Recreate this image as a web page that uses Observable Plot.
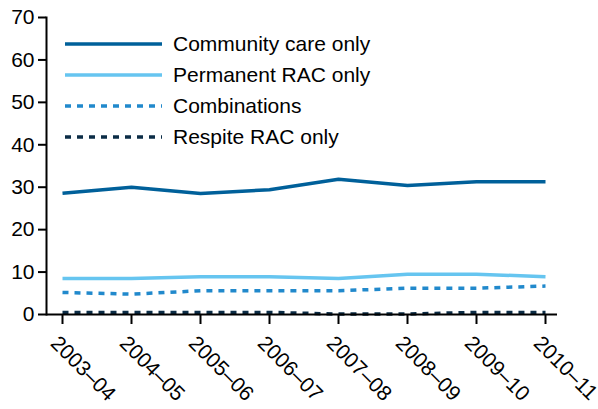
<!DOCTYPE html>
<html><head><meta charset="utf-8">
<script src="https://cdn.jsdelivr.net/npm/d3@7"></script>
<script src="https://cdn.jsdelivr.net/npm/@observablehq/plot@0.6"></script>
<style>
html,body{margin:0;padding:0;background:#fff;}
#wrap{position:relative;width:598px;height:409px;font-family:Arial,"Liberation Sans",sans-serif;overflow:hidden;}
#legend{position:absolute;left:65px;top:28px;}
.row{display:flex;align-items:center;height:31px;}
.row span{font-size:21px;color:#000;margin-left:11px;white-space:nowrap;}
</style></head><body><div id="wrap"><div id="legend"></div></div>
<script>
const years = ["2003–04","2004–05","2005–06","2006–07","2007–08","2008–09","2009–10","2010–11"];
const communityCare = [28.6, 30.0, 28.5, 29.4, 31.9, 30.4, 31.3, 31.3];
const permanentRAC = [8.5, 8.5, 8.9, 8.9, 8.5, 9.5, 9.5, 8.9];
const combinations = [5.2, 4.8, 5.6, 5.6, 5.6, 6.2, 6.2, 6.7];
const respiteRAC = [0.5, 0.5, 0.5, 0.5, 0.1, 0.1, 0.5, 0.5];
const seriesNames = ["Community care only","Permanent RAC only","Combinations","Respite RAC only"];
const seriesValues = [communityCare, permanentRAC, combinations, respiteRAC];
const seriesColors = ["#00609a","#66c5f0","#2189cc","#0b2c46"];
const seriesDash = [null, null, "6,6", "6,6"];
const yTicks = [0,10,20,30,40,50,60,70];

const lineMarks = seriesValues.map((vals, s) =>
  Plot.line(years.map((yr, i) => ({year: yr, value: vals[i]})), {
    x: "year", y: "value", stroke: seriesColors[s], strokeWidth: 3.5,
    strokeDasharray: seriesDash[s] || undefined, strokeLinecap: "butt", strokeLinejoin: "round"
  })
);

const chart = Plot.plot({
  width: 598, height: 409,
  marginTop: 17, marginBottom: 95, marginLeft: 46, marginRight: 41,
  style: {fontFamily: "Arial, 'Liberation Sans', sans-serif", fontSize: "21px", color: "#000", background: "#fff"},
  x: {type: "point", domain: years, padding: 0, insetLeft: 14, insetRight: 11},
  y: {domain: [0, 70]},
  marks: [
    Plot.axisY({ticks: yTicks, tickSize: 8, tickPadding: 4, strokeWidth: 2, label: null, fontSize: 21}),
    Plot.axisX({tickSize: 10, strokeWidth: 2, tickFormat: () => "", label: null}),
    Plot.frame({anchor: "left", strokeWidth: 2}),
    ...lineMarks,
    Plot.ruleY([0], {strokeWidth: 2}),
    Plot.text(years, {x: d => d, frameAnchor: "bottom", rotate: 45, textAnchor: "start", dx: -13, dy: 30, fontSize: 21})
  ]
});
document.getElementById("wrap").appendChild(chart);

const legend = document.getElementById("legend");
seriesNames.forEach((name, s) => {
  const row = document.createElement("div");
  row.className = "row";
  const dash = seriesDash[s] ? `stroke-dasharray="${seriesDash[s]}"` : "";
  row.innerHTML = `<svg width="97" height="6"><line x1="0" x2="97" y1="3" y2="3" stroke="${seriesColors[s]}" stroke-width="3.5" ${dash}/></svg><span>${name}</span>`;
  legend.appendChild(row);
});
</script>
</body></html>
